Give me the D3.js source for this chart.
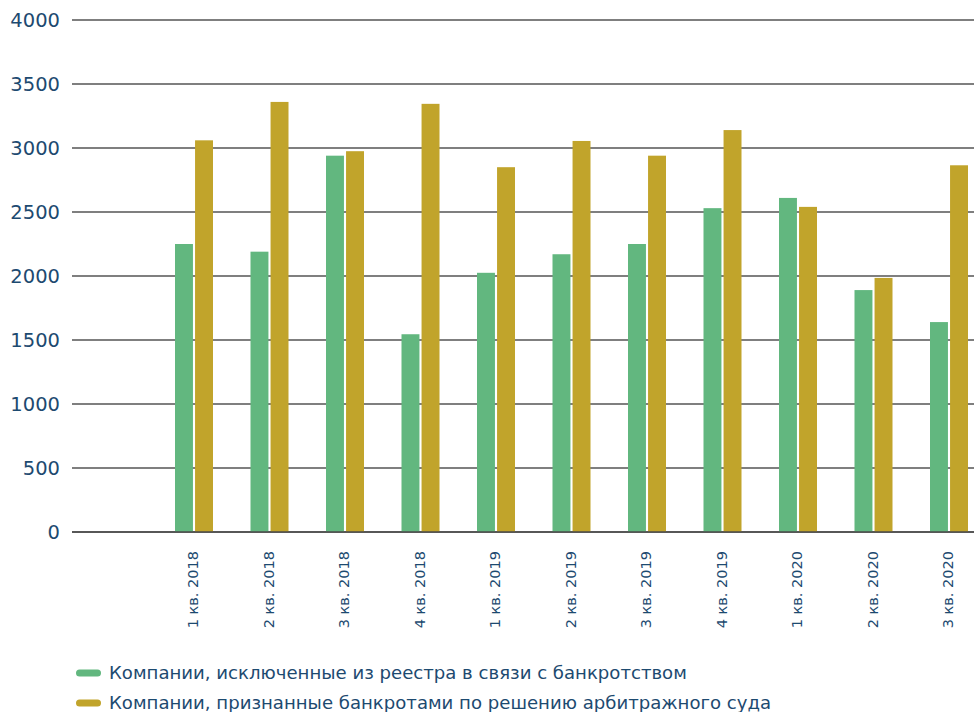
<!DOCTYPE html>
<html>
<head>
<meta charset="utf-8">
<script src="https://cdn.jsdelivr.net/npm/d3@7"></script>
<style>
  html, body { margin: 0; padding: 0; background: #ffffff; }
  svg { display: block; }
</style>
</head>
<body>
<svg id="chart" width="974" height="712"></svg>
<script>
const categories = ["1 кв. 2018", "2 кв. 2018", "3 кв. 2018", "4 кв. 2018", "1 кв. 2019", "2 кв. 2019", "3 кв. 2019", "4 кв. 2019", "1 кв. 2020", "2 кв. 2020", "3 кв. 2020"];
const excluded = [2250, 2190, 2940, 1545, 2025, 2170, 2250, 2530, 2610, 1890, 1640];
const bankrupt = [3060, 3360, 2975, 3345, 2850, 3055, 2940, 3140, 2540, 1985, 2865];
const seriesNames = ["Компании, исключенные из реестра в связи с банкротством", "Компании, признанные банкротами по решению арбитражного суда"];
const yTicks = [0, 500, 1000, 1500, 2000, 2500, 3000, 3500, 4000];

const colors = ["#62b77f", "#c1a42b"];
const textColor = "#1d4a70";
const font = "'DejaVu Sans', sans-serif";

const svg = d3.select("#chart");
const plotLeft = 72, plotRight = 974, plotTop = 20, plotBottom = 532;

const y = d3.scaleLinear().domain([0, 4000]).range([plotBottom, plotTop]);
// leading empty slot before the first quarter
const x = d3.scaleBand().domain([""].concat(categories)).range([80.75, 80.75 + 12 * 75.5]);
const x1 = d3.scaleBand().domain([0, 1]).range([-19, 19]).paddingInner(4 / 38);

// gridlines
svg.append("g").selectAll("line").data(yTicks).join("line")
  .attr("x1", plotLeft).attr("x2", plotRight)
  .attr("y1", d => y(d)).attr("y2", d => y(d))
  .attr("stroke", "#555555").attr("stroke-width", 1.7);

// y labels
const yAxis = d3.axisLeft(y).tickValues(yTicks).tickSize(0).tickPadding(0).tickFormat(d3.format("d"));
const gy = svg.append("g").attr("transform", `translate(${plotLeft - 12},0)`).call(yAxis);
gy.select(".domain").remove();
gy.selectAll("text").attr("fill", textColor).style("font-family", font).style("font-size", "19.5px");

// bars
const series = [excluded, bankrupt];
const groups = svg.append("g").selectAll("g").data(categories).join("g")
  .attr("transform", d => `translate(${x(d) + x.bandwidth() / 2},0)`);
groups.selectAll("rect").data((d, i) => series.map((s, k) => ({ k, v: s[i] }))).join("rect")
  .attr("x", d => x1(d.k)).attr("width", x1.bandwidth())
  .attr("y", d => y(d.v)).attr("height", d => y(0) - y(d.v))
  .attr("fill", d => colors[d.k]);

// baseline
svg.append("line").attr("x1", plotLeft).attr("x2", plotRight)
  .attr("y1", y(0)).attr("y2", y(0)).attr("stroke", "#4a4a4a").attr("stroke-width", 1.7);

// x labels
const xAxis = d3.axisBottom(x).tickValues(categories).tickSize(0).tickPadding(0);
const gx = svg.append("g").attr("transform", `translate(0,${plotBottom})`).call(xAxis);
gx.select(".domain").remove();
gx.selectAll("text")
  .attr("fill", textColor).style("font-family", font).style("font-size", "14.5px")
  .attr("text-anchor", "end").attr("transform", "rotate(-90)")
  .attr("x", -19).attr("y", -1).attr("dy", "0.35em");

// legend
const legend = svg.append("g").selectAll("g").data(seriesNames).join("g")
  .attr("transform", (d, i) => `translate(76,${673 + i * 30})`);
legend.append("rect").attr("x", 0).attr("y", -3.5).attr("width", 25).attr("height", 7).attr("rx", 3.5)
  .attr("fill", (d, i) => colors[i]);
legend.append("text").attr("x", 33).attr("y", 0).attr("dy", "0.35em")
  .attr("fill", textColor).style("font-family", font).style("font-size", "18.1px")
  .text(d => d);
</script>
</body>
</html>
